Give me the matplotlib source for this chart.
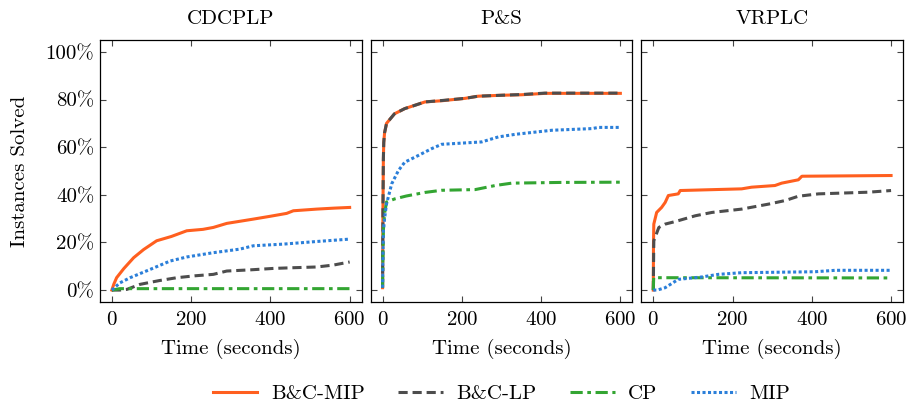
import matplotlib
matplotlib.use("Agg")
import matplotlib.pyplot as plt
from matplotlib.ticker import PercentFormatter
from matplotlib.lines import Line2D

plt.rcParams['font.family'] = ['cmr10', 'DejaVu Serif']
plt.rcParams['mathtext.fontset'] = 'cm'
plt.rcParams['axes.formatter.use_mathtext'] = True

FS = 15

titles = ["CDCPLP", "P&S", "VRPLC"]
methods = ["B&C-MIP", "B&C-LP", "CP", "MIP"]
colors = {"B&C-MIP": "#FF5F1F", "B&C-LP": "#4D4D4D", "CP": "#33A532", "MIP": "#2B7FD9"}
styles = {"B&C-MIP": "-", "B&C-LP": (0, (3, 1.6)), "CP": (0, (4, 1.5, 1.2, 1.5)), "MIP": (0, (1, 0.8))}

# CDCPLP
cd_mip_t = [0, 5, 12, 30, 55, 80, 113, 150, 189, 230, 256, 290, 357, 400, 441, 458, 517, 560, 600]
cd_mip_v = [0, 2.5, 5.2, 9.0, 13.6, 17.0, 20.7, 22.5, 24.9, 25.5, 26.3, 28.0, 29.8, 31.0, 32.2, 33.3, 34.0, 34.4, 34.7]
cd_lp_t = [0, 20, 38, 71, 120, 164, 210, 256, 290, 350, 408, 460, 517, 559, 600]
cd_lp_v = [0, 0, 0.3, 2.4, 4.0, 5.2, 6.0, 6.6, 8.0, 8.5, 9.1, 9.4, 9.7, 10.5, 11.8]
cd_cp_t = [0, 20, 600]
cd_cp_v = [0, 0.6, 0.6]
cd_ip_t = [0, 20, 46, 97, 147, 189, 256, 323, 357, 433, 517, 600]
cd_ip_v = [0, 3.0, 5.2, 8.7, 12.2, 13.9, 15.7, 17.2, 18.6, 19.3, 20.4, 21.4]

# P&S
ps_mip_t = [0, 0.5, 1, 2, 3, 5, 10, 20, 30, 56, 80, 107, 150, 208, 241, 300, 350, 410, 600]
ps_mip_v = [1, 20, 35, 55, 62, 66, 70, 72, 74, 76.2, 77.5, 79.0, 79.5, 80.5, 81.4, 81.8, 82.0, 82.6, 82.6]
ps_lp_t = ps_mip_t
ps_lp_v = [1, 20, 35, 55, 62, 66, 70, 72, 74, 76.2, 77.5, 79.0, 79.6, 80.5, 81.4, 81.8, 82.1, 82.7, 82.7]
ps_cp_t = [0, 1, 2, 5, 10, 31, 60, 107, 149, 234, 284, 326, 450, 600]
ps_cp_v = [1, 15, 25, 32, 37, 38.3, 39.5, 41.0, 41.9, 42.2, 43.9, 44.9, 45.2, 45.3]
ps_ip_t = [0, 1, 2, 5, 10, 23, 40, 56, 90, 124, 149, 250, 292, 335, 427, 528, 545, 600]
ps_ip_v = [1, 15, 25, 30, 36.2, 44.6, 50.2, 53.7, 56.5, 59.4, 61.2, 62.2, 64.3, 65.4, 67.1, 67.8, 68.3, 68.3]

# VRPLC
vr_mip_t = [0, 0.5, 1.3, 8.5, 21, 30, 38, 63, 68, 223, 248, 307, 324, 366, 375, 600]
vr_mip_v = [0, 19.3, 27.7, 32.6, 34.7, 36.8, 39.7, 40.4, 41.8, 42.5, 43.2, 43.9, 44.9, 46.3, 47.8, 48.1]
vr_lp_t = [0, 1.3, 14, 30, 56, 106, 148, 223, 291, 333, 366, 417, 543, 600]
vr_lp_v = [0, 20.7, 26.3, 27.7, 28.8, 31.2, 32.6, 34.0, 36.1, 37.6, 39.4, 40.4, 41.1, 41.8]
vr_cp_t = [0, 1, 600]
vr_cp_v = [0, 5.2, 5.1]
vr_ip_t = [0, 10, 30, 63, 122, 164, 223, 408, 459, 600]
vr_ip_v = [0, 0, 1.0, 4.5, 5.5, 6.6, 7.3, 7.7, 8.3, 8.3]

panels = [
    {"B&C-MIP": (cd_mip_t, cd_mip_v), "B&C-LP": (cd_lp_t, cd_lp_v), "CP": (cd_cp_t, cd_cp_v), "MIP": (cd_ip_t, cd_ip_v)},
    {"B&C-MIP": (ps_mip_t, ps_mip_v), "B&C-LP": (ps_lp_t, ps_lp_v), "CP": (ps_cp_t, ps_cp_v), "MIP": (ps_ip_t, ps_ip_v)},
    {"B&C-MIP": (vr_mip_t, vr_mip_v), "B&C-LP": (vr_lp_t, vr_lp_v), "CP": (vr_cp_t, vr_cp_v), "MIP": (vr_ip_t, vr_ip_v)},
]

fig, axes = plt.subplots(1, 3, figsize=(9.13, 4.04), dpi=100, sharey=True)
fig.subplots_adjust(left=0.1095, right=0.989, top=0.901, bottom=0.2525, wspace=0.035)

for ax, title, data in zip(axes, titles, panels):
    for m in methods:
        t, v = data[m]
        ax.plot(t, v, color=colors[m], linestyle=styles[m], linewidth=2.2, label=m)
    ax.set_title(title, fontsize=FS, pad=11.5)
    ax.set_xlim(-30, 630)
    ax.set_ylim(-5, 105)
    ax.set_xticks([0, 200, 400, 600])
    ax.set_yticks([0, 20, 40, 60, 80, 100])
    ax.yaxis.set_major_formatter(PercentFormatter(decimals=0))
    ax.tick_params(direction='in', top=True, right=True, length=4, width=0.8, labelsize=FS,
                   color='#444444', pad=4)
    ax.tick_params(axis='x', pad=6.5)
    ax.set_xlabel("Time (seconds)", fontsize=FS, labelpad=7)
    for s in ax.spines.values():
        s.set_linewidth(0.9)

axes[0].set_ylabel("Instances Solved", fontsize=FS, labelpad=12)

handles = [Line2D([0], [0], color=colors[m], linestyle=styles[m], linewidth=2.2) for m in methods]
fig.legend(handles, methods, loc='lower center', bbox_to_anchor=(0.549, -0.045), ncol=4, frameon=False,
           fontsize=FS, handlelength=2.15, handletextpad=0.65, columnspacing=1.6)

fig.savefig("out.png", dpi=100)
